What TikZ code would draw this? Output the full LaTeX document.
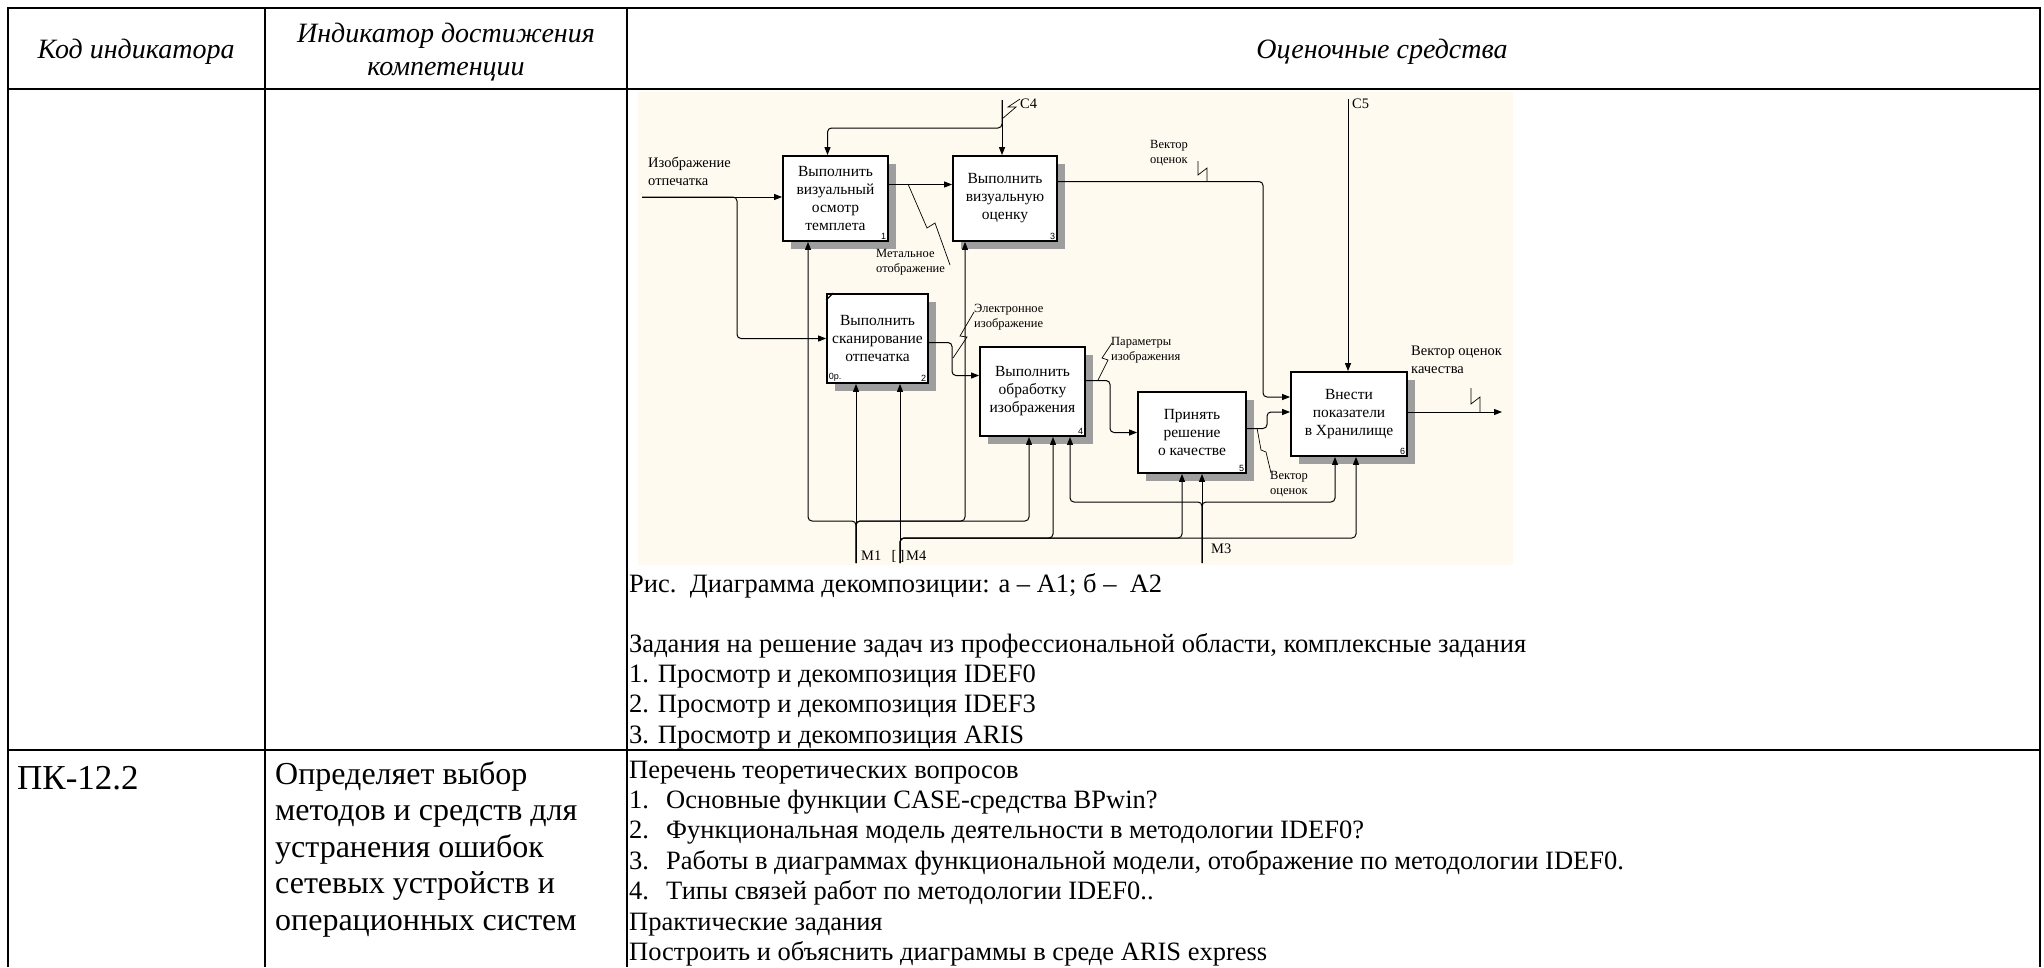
\documentclass[tikz,border=0pt]{standalone}
\usepackage{fontspec}
\setmainfont{Liberation Serif}
\setsansfont{Liberation Sans}
\usetikzlibrary{arrows.meta,shadows}
\definecolor{paper}{RGB}{255,250,240}
\newcommand{\hdfont}{\fontsize{28}{32.6}\selectfont\itshape}
\newcommand{\txfont}{\fontsize{26.5}{30.4}\selectfont}
\newcommand{\bgfont}{\fontsize{32}{36.5}\selectfont}
\newcommand{\bxfont}{\fontsize{15.5}{18}\selectfont}
\newcommand{\lbfont}{\fontsize{14.5}{18}\selectfont}
\newcommand{\smfont}{\fontsize{12.5}{15.5}\selectfont}
\newcommand{\nrfont}{\fontsize{9}{10}\selectfont\sffamily}
\begin{document}
\begin{tikzpicture}[x=1pt,y=-1pt,
    funcbox/.style={draw,line width=1.8pt,fill=white,align=center,font=\bxfont,inner sep=0pt,
      drop shadow={shadow xshift=8pt,shadow yshift=-8pt,fill=black!38,opacity=1}},
    arr/.style={line width=1pt,-{Triangle[length=8pt,width=6pt]},rounded corners=4pt},
    zig/.style={line width=0.7pt},
    tline/.style={line width=2.5pt},
    txt/.style={anchor=base west,inner sep=0pt,font=\txfont},
    lbl/.style={inner sep=0pt,font=\lbfont,align=left},
    sml/.style={inner sep=0pt,font=\smfont,align=left,anchor=north west}]
    \useasboundingbox (0,0) rectangle (2044,967);
    % table
    \draw[tline] (8,967) -- (8,8) -- (2040,8) -- (2040,967);
    \draw[tline] (8,89) -- (2040,89) (8,750) -- (2040,750);
    \draw[line width=2pt] (265,8) -- (265,967) (627,8) -- (627,967);
    \node[font=\hdfont] (h1) at (136,52) {Код индикатора};
    \node[font=\hdfont,align=center] (h2) at (446,52) {Индикатор достижения\\компетенции};
    \node[font=\hdfont] (h3) at (1382,52) {Оценочные средства};

    % IDEF0 diagram
    \fill[paper] (638,92) rectangle (1513,565);
    \node[funcbox,minimum width=105pt,minimum height=85pt] (b1) at (835.5,198.5) {Выполнить\\визуальный\\осмотр\\темплета};
    \node[funcbox,minimum width=101pt,minimum height=89pt] (b2) at (877.5,338.5) {Выполнить\\сканирование\\отпечатка};
    \node[funcbox,minimum width=104pt,minimum height=85pt] (b3) at (1005,198.5) {Выполнить\\визуальную\\оценку};
    \node[funcbox,minimum width=105pt,minimum height=89pt] (b4) at (1032.5,391.5) {Выполнить\\обработку\\изображения};
    \node[funcbox,minimum width=108pt,minimum height=81pt] (b5) at (1192,432.5) {Принять\\решение\\о качестве};
    \node[funcbox,minimum width=116pt,minimum height=84pt] (b6) at (1349,414) {Внести\\показатели\\в Хранилище};
    \foreach \b/\n in {b1/1,b2/2,b3/3,b4/4,b5/5,b6/6}
      \node[font=\nrfont,anchor=south east,inner sep=2.5pt] (\b-nr) at (\b.south east) {\n};
    \node[font=\nrfont,anchor=south west,inner sep=2.5pt] (b2-op) at (b2.south west) {0р.};
    \draw[line width=1.2pt] ([yshift=-7pt]b2.north west) -- ([xshift=7pt]b2.north west);

    \coordinate (inp) at (642,197);
    \coordinate (fork) at (737,197);
    \coordinate (c4) at (1002,100);
    \coordinate (c4j) at (1002,128);
    \coordinate (c5) at (1348,99);
    \coordinate (m1) at (856,563);
    \coordinate (m1j) at (856,521);
    \coordinate (m4) at (900,563);
    \coordinate (m4j) at (900,538);
    \coordinate (m3) at (1202,563);
    \coordinate (m3j) at (1202,502);
    \coordinate (out) at (1502,412);
    \coordinate (v24) at (952,360);
    \coordinate (v45) at (1110,410);
    \coordinate (v36) at (1263,290);
    \coordinate (v56) at (1267,420);

    % inputs and outputs
    \draw[arr] (inp) -- (inp -| b1.west);
    \draw[arr] (inp) -- (fork) |- (b2.west);
    \draw[arr] ([yshift=14pt]b1.east) -- ([yshift=14pt]b3.west);
    \draw[arr] ([yshift=17pt]b3.east) -| (v36) |- ([yshift=17pt]b6.west);
    \draw[arr] ([yshift=-4pt]b2.east) -| (v24) |- ([yshift=16pt]b4.west);
    \draw[arr] ([yshift=11pt]b4.east) -| (v45) |- (b5.west);
    \draw[arr] ([yshift=4pt]b5.east) -| (v56) |- ([yshift=2pt]b6.west);
    \draw[arr] ([yshift=2pt]b6.east) -- (out);
    % controls
    \draw[arr] (c4) -- (c4 |- b3.north);
    \draw[arr] (c4) -- (c4j) -| ([xshift=-8pt]b1.north);
    \draw[arr] (c5) -- (c5 |- b6.north);
    % mechanisms
    \draw[arr] (m1) -- (m1 |- b2.south);
    \draw[arr] (m1) -- (m1j) -| ([xshift=-27.5pt]b1.south);
    \draw[arr] (m1) -- (m1j) -| ([xshift=-40pt]b3.south);
    \draw[arr] (m1) -- (m1j) -| ([xshift=-3.5pt]b4.south);
    \draw[arr] (m4) -- (m4 |- b2.south);
    \draw[arr] (m4) -- (m4j) -| ([xshift=20.5pt]b4.south);
    \draw[arr] (m4) -- (m4j) -| ([xshift=-10pt]b5.south);
    \draw[arr] (m4) -- (m4j) -| ([xshift=7pt]b6.south);
    \draw[arr] (m3) -- (m3 |- b5.south);
    \draw[arr] (m3) -- (m3j) -| ([xshift=37.5pt]b4.south);
    \draw[arr] (m3) -- (m3j) -| ([xshift=-14pt]b6.south);

    % arrow labels
    \node[lbl,anchor=north west] (linp) at (648,157) {Изображение\\отпечатка};
    \node[lbl,anchor=west] (lc4) at (1020,104) {C4};
    \node[lbl,anchor=west] (lc5) at (1352,104) {C5};
    \node[lbl,anchor=west] (lm1) at (861,556) {M1};
    \node[lbl] (ltun) at (898,556) {[\kern3pt]};
    \node[lbl,anchor=west] (lm4) at (906,556) {M4};
    \node[lbl,anchor=west] (lm3) at (1211,549) {M3};
    \node[lbl,anchor=north west] (lvec3) at (1411,346) {Вектор оценок\\качества};
    \node[sml] (lmet) at (876,249) {Метальное\\отображение};
    \node[sml] (lvec1) at (1150,140) {Вектор\\оценок};
    \node[sml] (lel) at (974,304) {Электронное\\изображение};
    \node[sml] (lpar) at (1111,337) {Параметры\\изображения};
    \node[sml] (lvec2) at (1270,471) {Вектор\\оценок};
    \draw[zig] (1002,119) -- (1016,107) -- (1008,107) -- (1020,99);
    \draw[zig] (908,184) -- (927,228) -- (935,223) -- (950,265);
    \draw[zig] (1207,181) -- (1207,168) -- (1198,175) -- (1198,161);
    \draw[zig] (953,358) -- (967,337) -- (960,336) -- (974,312);
    \draw[zig] (1098,380) -- (1108,360) -- (1102,358) -- (1112,343);
    \draw[zig] (1257,428) -- (1261,450) -- (1266,452) -- (1271,473);
    \draw[zig] (1480,412) -- (1480,397) -- (1471,404) -- (1471,388);

    % texts of the first row
    \node[txt] (cap) at (629,592) {Рис.\ \ Диаграмма декомпозиции: а – А1; б –\ \ А2};
    \foreach [count=\i] \t in {{Задания на решение задач из профессиональной области, комплексные задания},
        {1. Просмотр и декомпозиция IDEF0},{2. Просмотр и декомпозиция IDEF3},{3. Просмотр и декомпозиция ARIS}}
      \node[txt] (t\i) at (629,621.6+30.4*\i) {\t};

    % second row
    \node[txt,font=\fontsize{35}{40}\selectfont] (code) at (17,789) {ПК-12.2};
    \foreach [count=\i] \t in {Определяет выбор,методов и средств для,устранения ошибок,сетевых устройств и,операционных систем}
      \node[txt,font=\bgfont] (d\i) at (275,747.5+36.5*\i) {\t};
    \foreach [count=\i] \t in {Перечень теоретических вопросов,
        {\makebox[37pt][l]{1.}Основные функции CASE-средства BPwin?},
        {\makebox[37pt][l]{2.}Функциональная модель деятельности в методологии IDEF0?},
        {\makebox[37pt][l]{3.}Работы в диаграммах функциональной модели, отображение по методологии IDEF0.},
        {\makebox[37pt][l]{4.}Типы связей работ по методологии IDEF0..},
        Практические задания,
        Построить и объяснить диаграммы в среде ARIS express}
      \node[txt] (q\i) at (629,747.6+30.4*\i) {\t};
  \end{tikzpicture}
\end{document}
